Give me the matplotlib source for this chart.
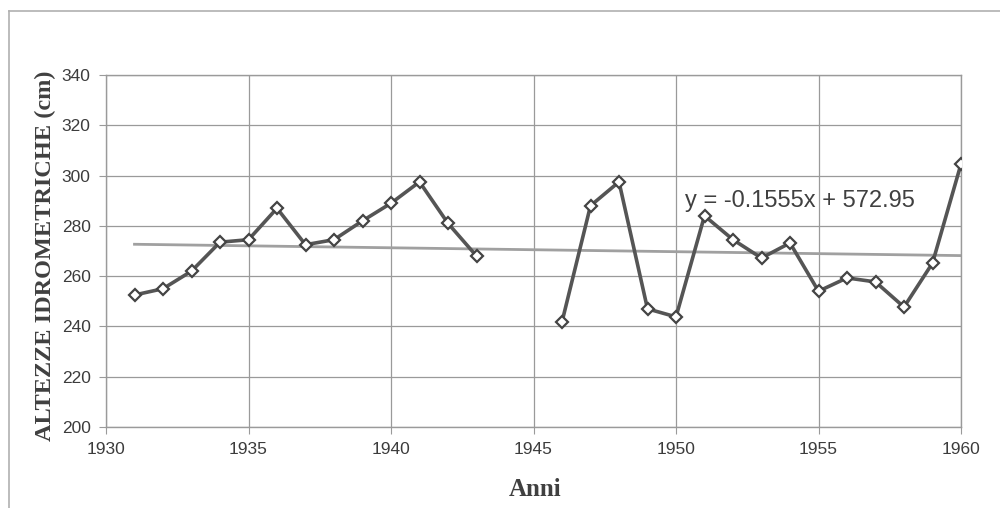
import matplotlib
matplotlib.use("Agg")
import matplotlib.pyplot as plt
import numpy as np
from matplotlib.lines import Line2D

years_a = [1931, 1932, 1933, 1934, 1935, 1936, 1937, 1938, 1939, 1940, 1941, 1942, 1943]
heights_a = [252.5, 255, 262, 273.5, 274.5, 287, 272.5, 274.5, 282, 289, 297.5, 281, 268]
years_b = [1946, 1947, 1948, 1949, 1950, 1951, 1952, 1953, 1954, 1955, 1956, 1957, 1958, 1959, 1960]
heights_b = [241.8, 288, 297.5, 247, 243.8, 284, 274.5, 267.2, 273.2, 254, 259.3, 257.7, 247.7, 265.2, 304.6]
trend_slope = -0.1555
trend_intercept = 572.95
trend_years = [1931, 1960]
x_ticks = [1930, 1935, 1940, 1945, 1950, 1955, 1960]
y_ticks = [200, 220, 240, 260, 280, 300, 320, 340]
equation = "y = -0.1555x + 572.95"

fig = plt.figure(figsize=(10, 5.08), dpi=100)
fig.patch.set_facecolor("white")
# figure frame (left and top edges)
fig.add_artist(Line2D([0.009, 0.009], [0.0, 1 - 11/508], transform=fig.transFigure, color="#b0b0b0", lw=1.2))
fig.add_artist(Line2D([0.009, 1.0], [1 - 11/508, 1 - 11/508], transform=fig.transFigure, color="#b0b0b0", lw=1.2))

ax = fig.add_axes([0.106, 81/508, 0.855, 352/508])
ax.set_xlim(1930, 1960)
ax.set_ylim(200, 340)
ax.set_xticks(x_ticks)
ax.set_yticks(y_ticks)
ax.grid(True, color="#9a9a9a", lw=0.9)
ax.set_axisbelow(True)
for s in ax.spines.values():
    s.set_color("#9a9a9a")
    s.set_linewidth(1.0)
ax.tick_params(direction="out", length=5, color="#9a9a9a", labelcolor="#3c3c3c", labelsize=12.5, pad=6)
for lab in ax.get_xticklabels() + ax.get_yticklabels():
    lab.set_family("Liberation Sans")

tx = np.array(trend_years)
ax.plot(tx, trend_slope * tx + trend_intercept, color="#a0a0a0", lw=2.0, zorder=2)

for xs, ys in [(years_a, heights_a), (years_b, heights_b)]:
    ax.plot(xs, ys, color="#555555", lw=2.6, marker="D", markersize=6.5,
            markerfacecolor="white", markeredgecolor="#444444", markeredgewidth=1.6, zorder=3)

ax.text(1950.3, 290, equation, fontsize=17, family="Liberation Sans", color="#404040", va="center", ha="left")

ax.set_ylabel("ALTEZZE IDROMETRICHE (cm)", family="Liberation Serif", fontweight="bold",
              fontsize=17.5, color="#404040", va="center")
ax.yaxis.set_label_coords((45 - 106) / 855, (427 - 256) / 352)
ax.set_xlabel("Anni", family="Liberation Serif", fontweight="bold", fontsize=18,
              color="#404040", va="center")
ax.xaxis.set_label_coords((535 - 106) / 855, (427 - 490) / 352)

fig.savefig("out.png", dpi=100, facecolor="white")
